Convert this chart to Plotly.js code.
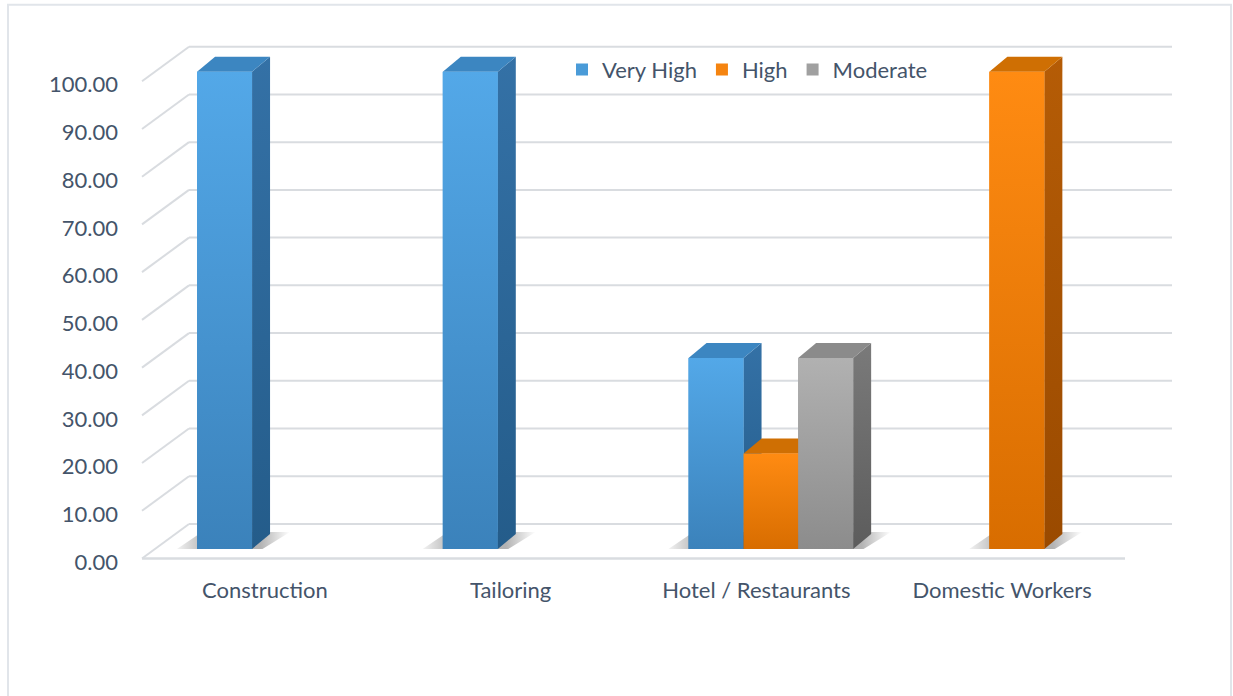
<!DOCTYPE html>
<html>
<head>
<meta charset="utf-8">
<script src="https://cdn.plot.ly/plotly-3.0.1.min.js"></script>
<style>html,body{margin:0;padding:0;background:#fff;}#chart{width:1233px;height:696px;}</style>
</head>
<body>
<div id="chart"></div>
<script>
// ---- data ----
const categories = ['Construction', 'Tailoring', 'Hotel / Restaurants', 'Domestic Workers'];
const seriesNames = ['Very High', 'High', 'Moderate'];
const veryHigh = [100, 100, 40, null];
const high = [null, null, 20, 100];
const moderate = [null, null, 40, null];
const yTicks = [0, 10, 20, 30, 40, 50, 60, 70, 80, 90, 100];

// ---- styling / geometry ----
const W = 1233, H = 696;
const L = 142, R = 1125, B = 549;              // plot area px
const yUnit = (B - 72) / 100;                   // px per unit (100 at y=72)
const YMAX = 110;
const T = B - YMAX * yUnit;
const xUnit = (R - L) / 4;
const depthPxX = 18, depthPxY = 15;
const dx = depthPxX / xUnit, dy = depthPxY / yUnit;
const barW = 55 / xUnit;
const offsets = [-0.276, -0.052, 0.170];
const FONT = 'Lato, "Open Sans", sans-serif';
const TXT = '#44546a';
const FS = 22;

const palettes = [
  {legend: '#4a9bd8', front: [[0, '#3b82bb'], [1, '#53a8e8']], side: [[0, '#245c8a'], [1, '#3471a6']], top: '#3c86c1'},
  {legend: '#f58410', front: [[0, '#d86d00'], [1, '#ff8b12']], side: [[0, '#9a4a00'], [1, '#b55c06']], top: '#cf6f03'},
  {legend: '#a0a0a0', front: [[0, '#8c8c8c'], [1, '#b1b1b1']], side: [[0, '#5c5c5c'], [1, '#7a7a7a']], top: '#8b8b8b'}
];
const seriesValues = [veryHigh, high, moderate];

const traces = [];
seriesValues.forEach((vals, i) => {
  traces.push({
    type: 'bar', name: seriesNames[i], x: categories.map((c, j) => j), y: vals,
    offset: offsets[i], width: barW,
    marker: {color: palettes[i].legend, line: {width: 0}},
    hoverinfo: 'skip'
  });
});

function poly(xs, ys, extra) {
  return Object.assign({
    type: 'scatter', mode: 'lines', x: xs.concat([xs[0]]), y: ys.concat([ys[0]]),
    fill: 'toself', line: {width: 0}, showlegend: false, hoverinfo: 'skip'
  }, extra);
}

// soft floor shadows
seriesValues.forEach((vals, i) => {
  vals.forEach((v, j) => {
    if (v == null) return;
    const x0 = j + offsets[i], x1 = x0 + barW;
    const ex = 26 / xUnit, ey = 4 / yUnit;
    traces.push(poly(
      [x0 - ex, x1 + 4 / xUnit, x1 + dx + 20 / xUnit, x0 + dx - ex / 2],
      [-ey, -ey, dy + 2 / yUnit, dy + 2 / yUnit],
      {fillcolor: 'rgba(0,0,0,0.15)',
       fillgradient: {type: 'horizontal', colorscale: [[0, 'rgba(0,0,0,0)'], [0.3, 'rgba(0,0,0,0.30)'], [0.75, 'rgba(0,0,0,0.30)'], [1, 'rgba(0,0,0,0)']]}}
    ));
  });
});

// 3D faces
categories.forEach((c, j) => {
  seriesValues.forEach((vals, i) => {
    const v = vals[j];
    if (v == null) return;
    const p = palettes[i];
    const x0 = j + offsets[i], x1 = x0 + barW;
    traces.push(poly([x1, x1 + dx, x1 + dx, x1], [0, dy, v + dy, v],
      {fillcolor: p.side[1][1], fillgradient: {type: 'vertical', colorscale: p.side}}));
    traces.push(poly([x0, x1, x1 + dx, x0 + dx], [v, v, v + dy, v + dy], {fillcolor: p.top}));
    traces.push(poly([x0, x1, x1, x0], [0, 0, v, v],
      {fillcolor: p.front[1][1], fillgradient: {type: 'vertical', colorscale: p.front}}));
  });
});

// ---- grid shapes ----
const px2x = px => (px - L) / (R - L);
const px2y = py => (B - py) / (B - T);
const GRID = '#d9dce0';
const shapes = [];
const backDX = 47, backDY = 25, frontDY = 9.5;
yTicks.forEach(v => {
  const py = B - v * yUnit;
  shapes.push({type: 'line', xref: 'paper', yref: 'paper', layer: 'below',
    x0: px2x(L + backDX), x1: px2x(R + backDX), y0: px2y(py - backDY), y1: px2y(py - backDY),
    line: {color: GRID, width: 2}});
  shapes.push({type: 'line', xref: 'paper', yref: 'paper', layer: 'below',
    x0: px2x(L), x1: px2x(L + backDX), y0: px2y(py + frontDY), y1: px2y(py - backDY),
    line: {color: GRID, width: 2}});
});
shapes.push({type: 'line', xref: 'paper', yref: 'paper', layer: 'below',
  x0: px2x(L), x1: px2x(R), y0: px2y(B + frontDY), y1: px2y(B + frontDY),
  line: {color: GRID, width: 2.5}});
shapes.push({type: 'rect', xref: 'paper', yref: 'paper', layer: 'below',
  x0: px2x(8), x1: px2x(1231), y0: px2y(5), y1: px2y(703),
  line: {color: '#e1e5ea', width: 2}, fillcolor: 'rgba(0,0,0,0)'});

const layout = {
  width: W, height: H,
  margin: {l: L, r: W - R, t: T, b: H - B, pad: 0},
  paper_bgcolor: '#ffffff', plot_bgcolor: 'rgba(0,0,0,0)',
  barmode: 'overlay',
  hovermode: false,
  font: {family: FONT, size: FS, color: TXT},
  xaxis: {
    range: [-0.5, 3.5], tickvals: categories.map((c, j) => j), ticktext: categories,
    showgrid: false, zeroline: false, showline: false, ticks: '',
    ticklabelstandoff: 26, fixedrange: true,
    tickfont: {family: FONT, size: FS, color: TXT}
  },
  yaxis: {
    range: [0, YMAX], tickvals: yTicks, ticktext: yTicks.map(v => v.toFixed(2)),
    showgrid: false, zeroline: false, showline: false, ticks: '',
    ticklabelstandoff: 23, ticklabelshift: 13, fixedrange: true,
    tickfont: {family: FONT, size: FS, color: TXT}
  },
  legend: {
    orientation: 'h', x: px2x(562), xanchor: 'left', y: px2y(49), yanchor: 'top',
    font: {family: FONT, size: FS, color: TXT}, bgcolor: 'rgba(0,0,0,0)',
    traceorder: 'normal', itemclick: false, itemdoubleclick: false
  },
  shapes: shapes,
  showlegend: true
};

Plotly.newPlot('chart', traces, layout, {displayModeBar: false, staticPlot: true});
</script>
</body>
</html>
